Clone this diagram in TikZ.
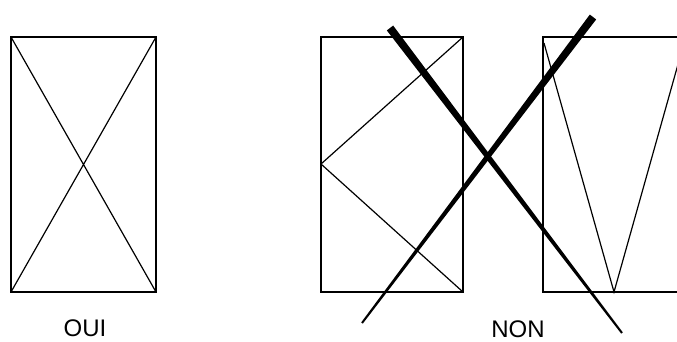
\documentclass[tikz,border=0pt]{standalone}
\usepackage{fontspec}
\setmainfont{Liberation Sans}
\usetikzlibrary{calc}
\tikzset{
  cadre/.style={line width=1.2pt},
  trait/.style={line width=1.2pt},
  legende/.style={font=\fontsize{24}{28}\selectfont, inner sep=0pt}
}

\begin{document}
\begin{tikzpicture}[x=1pt,y=-1pt]
\useasboundingbox (0,0) rectangle (677,341);
\clip (0,0) rectangle (677,341);
% bon sens
\draw[cadre] (11,37) rectangle (156,292);
\draw[trait] (11,37) -- (156,292) (156,37) -- (11,292);
\node[legende] (oui) at (85,328) {OUI};
% mauvais sens
\draw[cadre] (321,37) rectangle (463,292);
\draw[trait] (463,37) -- (321,164) -- (463,292);
\draw[cadre] (543,37) rectangle (686,292);
\draw[trait] (544,43) -- (614,292) -- (684,43);
\node[legende] (non) at (518,329) {NON};
% grande croix
\coordinate (c1a) at (390,28); \coordinate (c1b) at (622,333);
\coordinate (c2a) at (593,17); \coordinate (c2b) at (362,323);
\foreach \s/\e in {c1a/c1b,c2a/c2b}
  \fill ($(\s)!4pt!90:(\e)$) -- ($(\s)!4pt!-90:(\e)$) -- ($(\e)!1pt!90:(\s)$) -- ($(\e)!1pt!-90:(\s)$) -- cycle;
\end{tikzpicture}
\end{document}
